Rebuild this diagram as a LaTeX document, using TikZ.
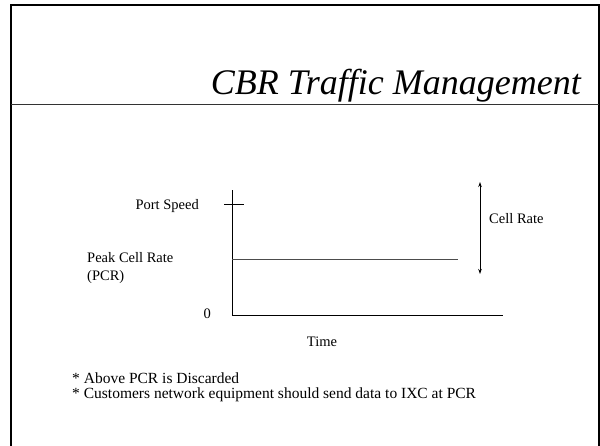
\documentclass[tikz,border=0pt]{standalone}
\usepackage{fontspec}
\setmainfont{Liberation Serif}
\usetikzlibrary{positioning,arrows.meta}

\begin{document}
\begin{tikzpicture}[x=1pt,y=-1pt]
	\tikzset{lbl/.style={inner sep=0pt,font=\fontsize{14.5}{18}\selectfont},
		axis/.style={draw=black,line width=1pt},
		rate/.style={{Stealth[length=5pt,width=3.5pt]}-{Stealth[length=5pt,width=3.5pt]},line width=1pt}}
	\useasboundingbox (0,0) rectangle (600,445);

	%% slide frame and title
	\coordinate (fbl) at (11,446);
	\coordinate (ftl) at (11,5);
	\coordinate (ftr) at (599,5);
	\coordinate (fbr) at (599,446);
	\draw[line width=2pt] (fbl) -- (ftl) -- (ftr) -- (fbr);
	\coordinate (sepl) at (11,104);
	\coordinate (sepr) at (599,104);
	\draw[black!80,line width=1pt] (sepl) -- (sepr);
	\node[anchor=base east,inner sep=0pt,font=\fontsize{36}{40}\selectfont\itshape] (title) at (581,94) {CBR Traffic Management};

	%% axes
	\coordinate (org) at (232,315);
	\coordinate (ytop) at (232,190);
	\coordinate (xend) at (503,315);
	\coordinate (tickl) at (224,204);
	\coordinate (tickr) at (244,204);
	\coordinate (pcrl) at (232,259);
	\coordinate (pcrr) at (458,259);
	\draw[axis] (ytop) -- (org) -- (xend);
	\draw[axis] (tickl) -- (tickr);
	\draw[axis,draw=black!70] (pcrl) -- (pcrr);

	%% cell rate arrow
	\coordinate (crtop) at (480,182);
	\coordinate (crbot) at (480,274);
	\draw[rate] (crtop) -- (crbot);

	%% labels
	\node[lbl,anchor=base east] (port) at (199,209) {Port Speed};
	\node[lbl,anchor=west,align=left] (pcr) at (87,268) {Peak Cell Rate\\(PCR)};
	\node[lbl,anchor=base east] (zero) at (211,318) {0};
	\node[lbl,anchor=base] (time) at (322,346) {Time};
	\node[lbl,anchor=west] (cellrate) at (489,219) {Cell Rate};

	%% notes
	\node[lbl,anchor=west,align=left,font=\fontsize{15.5}{15}\selectfont] (notes) at (72,387)
		{* Above PCR is Discarded\\* Customers network equipment should send data to IXC at PCR};
\end{tikzpicture}
\end{document}
